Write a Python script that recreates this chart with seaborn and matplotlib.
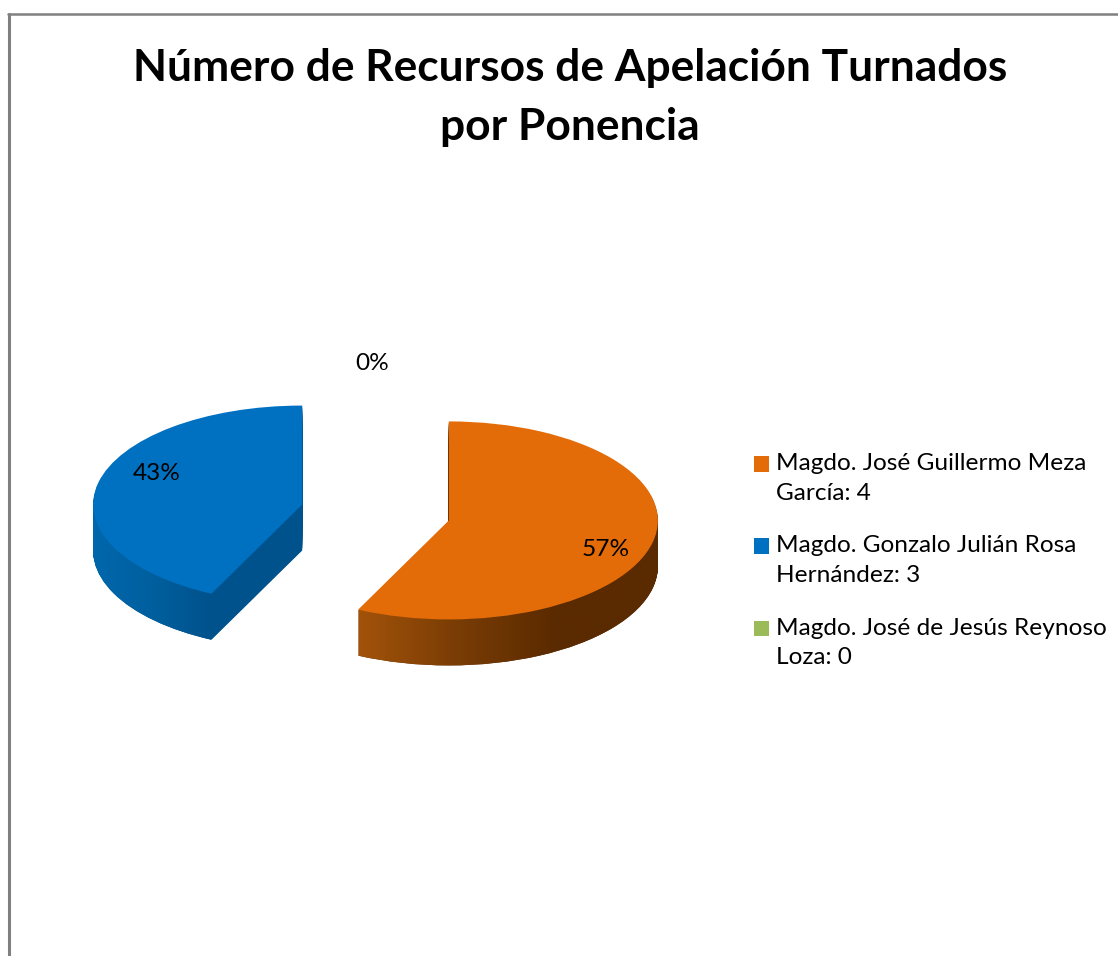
import numpy as np
import matplotlib
matplotlib.use("Agg")
import matplotlib.pyplot as plt
from matplotlib.colors import LinearSegmentedColormap
from matplotlib.lines import Line2D
from matplotlib.path import Path
from matplotlib.transforms import IdentityTransform
import seaborn as sns

# data
ponentes = [
    "Magdo. José Guillermo Meza\nGarcía: 4",
    "Magdo. Gonzalo Julián Rosa\nHernández: 3",
    "Magdo. José de Jesús Reynoso\nLoza: 0",
]
recursos = [4, 3, 0]
titulo = "Número de Recursos de Apelación Turnados\npor Ponencia"

COLORS = sns.color_palette(["#E36C09", "#0070C0", "#9BBB59"])
SIDE_COLORS = ["#5A2A00", "#00528C", "#6F8A3C"]
EXPLODE = [0.36, 0.36, 0.36]

W, H = 1118, 956
# pie geometry in pixels: an ellipse squeezed to look tilted
CX, CY, RX, RY = 375.5, 512.5, 209, 99
DEPTH = 46

sns.set_theme(style="white")
plt.rcParams["font.family"] = ["Lato", "DejaVu Sans"]


def px(x, y):
    return (x - CX) / RX, (CY - y) / RY


fig = plt.figure(figsize=(W / 100, H / 100), dpi=100, facecolor="white")
ax = fig.add_axes([0, 0, 1, 1])

# extruded side: stack of pies shifted downward
side_wedges = []
for d in range(DEPTH, 0, -1):
    w, _ = ax.pie(recursos, explode=EXPLODE, colors=SIDE_COLORS, startangle=90,
                  counterclock=False, center=(0, -d / RY), radius=1,
                  wedgeprops=dict(linewidth=0))
    side_wedges.append(w)

wedges, _, pct = ax.pie(recursos, explode=EXPLODE, colors=COLORS, startangle=90,
                        counterclock=False, autopct="%1.0f%%", radius=1,
                        wedgeprops=dict(linewidth=0, zorder=5),
                        textprops=dict(fontsize=17.6, color="black", zorder=6))

ax.set_aspect("auto")
ax.set_xlim(px(0, 0)[0], px(W, 0)[0])
ax.set_ylim(px(0, H)[1], px(0, 0)[1])
ax.set_axis_off()

for t, pos in zip(pct, [(606, 550), (157, 473), (372, 363)]):
    t.set_position(px(*pos))
    t.set_ha("center")
    t.set_va("center")


def side_gradient(idx, stops, x0, x1, y0, y1):
    cmap = LinearSegmentedColormap.from_list("side", stops)
    paths = [w[idx].get_transform().transform_path(w[idx].get_path()) for w in side_wedges]
    clip = Path.make_compound_path(*paths)
    x_a, y_a = px(x0, y0)
    x_b, y_b = px(x1, y1)
    im = ax.imshow(np.linspace(0, 1, 256).reshape(1, -1), cmap=cmap, aspect="auto",
                   extent=(x_a, x_b, y_b, y_a), zorder=2, interpolation="bilinear")
    im.set_clip_path(clip, IdentityTransform())


side_gradient(0, ["#A5540A", "#7A3D05", "#5A2A00", "#5A2A00"], 352, 660, 560, 680)
side_gradient(1, ["#0068AE", "#00609F", "#00528C"], 85, 211, 500, 650)
ax.set_xlim(px(0, 0)[0], px(W, 0)[0])
ax.set_ylim(px(0, H)[1], px(0, 0)[1])

fig.text(570 / W, 1 - 97.5 / H, titulo, ha="center", va="center", fontsize=31.9,
         fontweight="bold", color="black", linespacing=1.55)

leg = ax.legend(wedges, ponentes, loc="upper left", bbox_to_anchor=(754 / W, 1 - 453 / H),
                bbox_transform=fig.transFigure, frameon=False, fontsize=17.6,
                handlelength=0.61, handleheight=0.61, handletextpad=0.27,
                labelspacing=1.3, borderpad=0, borderaxespad=0, labelcolor="black")
for t in leg.get_texts():
    t.set_linespacing(1.5)
# square sits next to the first text line
for h in leg.legend_handles:
    h.set_y(h.get_y() + 10.2)

# chart frame: only top and left edges are inside the crop
fig.add_artist(Line2D([8.5 / W, 8.5 / W], [0, 1 - 14 / H], color="#808080", lw=2.2))
fig.add_artist(Line2D([7.5 / W, 1], [1 - 14 / H, 1 - 14 / H], color="#808080", lw=1.8))

fig.savefig("out.png", dpi=100, facecolor="white")
